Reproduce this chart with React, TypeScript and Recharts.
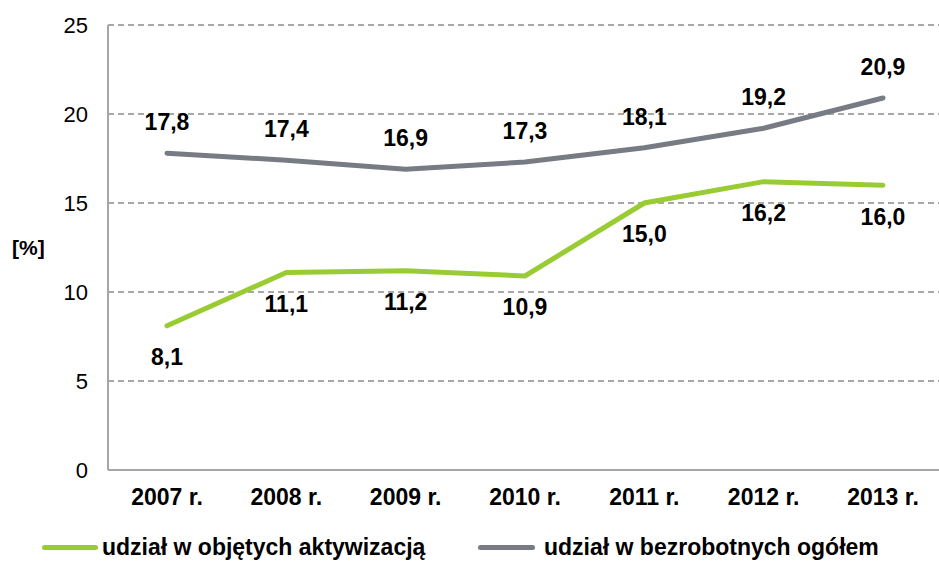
import React from "react";
import { LineChart, Line, XAxis, YAxis, CartesianGrid, LabelList, Legend } from "recharts";

const years = ["2007 r.", "2008 r.", "2009 r.", "2010 r.", "2011 r.", "2012 r.", "2013 r."];
const activated = [8.1, 11.1, 11.2, 10.9, 15.0, 16.2, 16.0];
const unemployed = [17.8, 17.4, 16.9, 17.3, 18.1, 19.2, 20.9];
const yTicks = [0, 5, 10, 15, 20, 25];

const GREEN = "#99CC33";
const GRAY = "#767B84";
const FONT = "'Liberation Sans', Arial, sans-serif";

const data = years.map((y, i) => ({ year: y, activated: activated[i], unemployed: unemployed[i] }));

const fmt = (v: any) => Number(v).toFixed(1).replace(".", ",");

const LegendBox = () => (
    <div style={{ position: "relative", height: 43, fontFamily: FONT, fontWeight: "bold", fontSize: 23, lineHeight: "23px", color: "#000" }}>
        <div style={{ position: "absolute", left: 42, top: 25, width: 56, height: 5, borderRadius: 3, background: GREEN }} />
        <span style={{ position: "absolute", left: 102, top: 16, whiteSpace: "nowrap" }}>udział w objętych aktywizacją</span>
        <div style={{ position: "absolute", left: 478, top: 25, width: 57, height: 5, borderRadius: 3, background: GRAY }} />
        <span style={{ position: "absolute", left: 544, top: 16, whiteSpace: "nowrap" }}>udział w bezrobotnych ogółem</span>
    </div>
);

export default function App() {
    return (
        <div style={{ position: "absolute", left: 0, top: 0, width: 939, height: 563, background: "#fff" }}>
            <LineChart width={939} height={563} data={data} margin={{ top: 25, right: 0, bottom: 0, left: 0 }} style={{ fontFamily: FONT }}>
                <CartesianGrid vertical={false} stroke="#8C8C8C" strokeWidth={1.5} strokeDasharray="6 4" />
                <XAxis
                    dataKey="year"
                    height={50}
                    padding={{ left: 59, right: 56 }}
                    tickSize={0}
                    tickMargin={19}
                    axisLine={{ stroke: "#A6A6A6", strokeWidth: 2 }}
                    tick={{ fill: "#000", fontSize: 23, fontWeight: "bold" }}
                />
                <YAxis
                    width={108}
                    domain={[0, 25]}
                    ticks={yTicks}
                    tickSize={0}
                    tickMargin={20}
                    axisLine={{ stroke: "#A6A6A6", strokeWidth: 2 }}
                    tick={{ fill: "#000", fontSize: 22 }}
                    label={{ value: "[%]", position: "insideLeft", offset: 12, fill: "#000", fontSize: 21, fontWeight: "bold" }}
                />
                <Legend verticalAlign="bottom" height={43} content={() => <LegendBox />} />
                <Line type="linear" dataKey="unemployed" stroke={GRAY} strokeWidth={5} strokeLinecap="round" dot={false} isAnimationActive={false}>
                    <LabelList dataKey="unemployed" position="top" offset={23} formatter={fmt} fill="#000" fontSize={23} fontWeight="bold" />
                </Line>
                <Line type="linear" dataKey="activated" stroke={GREEN} strokeWidth={5} strokeLinecap="round" dot={false} isAnimationActive={false}>
                    <LabelList dataKey="activated" position="bottom" offset={23} formatter={fmt} fill="#000" fontSize={23} fontWeight="bold" />
                </Line>
            </LineChart>
        </div>
    );
}
